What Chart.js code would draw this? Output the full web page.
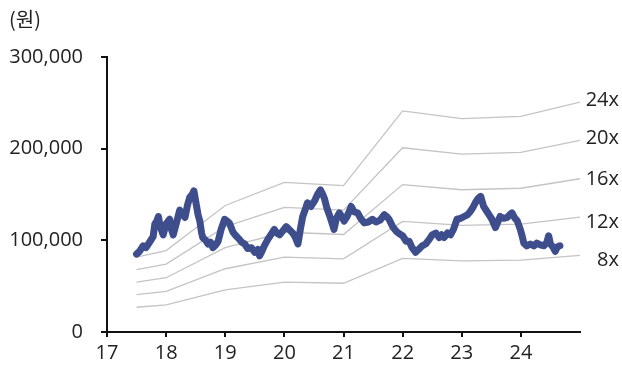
<!DOCTYPE html>
<html>
<head>
<meta charset="utf-8">
<script src="https://cdn.jsdelivr.net/npm/chart.js@4/dist/chart.umd.min.js"></script>
<style>
  html, body { margin: 0; padding: 0; background: #fff; }
  #wrap { width: 622px; height: 369px; }
</style>
</head>
<body>
<div id="wrap"><canvas id="myChart" width="622" height="369"></canvas></div>
<script>
// x in years (17 = 2017), values in won
var bandX = [17.5, 18, 19, 20, 21, 22, 23, 24, 25];
var band8 = [27000, 29600, 46000, 54400, 53200, 80400, 77600, 78400, 83600];
var band12 = [40800, 44400, 69000, 81600, 79800, 120600, 116400, 117600, 125400];
var band16 = [54400, 59200, 92000, 108800, 106400, 160800, 155200, 156800, 167200];
var band20 = [68000, 74000, 115000, 136000, 133000, 201000, 194000, 196000, 209000];
var band24 = [81600, 88800, 138000, 163200, 159600, 241200, 232800, 235200, 250800];
var bandLabels = ['8x', '12x', '16x', '20x', '24x'];

var priceX = [17.50, 17.55, 17.61, 17.66, 17.73, 17.78, 17.81, 17.84, 17.87, 17.90,
  17.95, 18.00, 18.06, 18.09, 18.12, 18.17, 18.23, 18.28, 18.32, 18.36,
  18.40, 18.44, 18.47, 18.51, 18.54, 18.57, 18.60, 18.62, 18.67, 18.71,
  18.75, 18.79, 18.84, 18.88, 18.93, 18.99, 19.03, 19.07, 19.10, 19.13,
  19.18, 19.24, 19.28, 19.33, 19.38, 19.44, 19.50, 19.55, 19.58, 19.62,
  19.66, 19.72, 19.77, 19.83, 19.87, 19.92, 19.97, 20.03, 20.08, 20.14,
  20.18, 20.23, 20.27, 20.31, 20.35, 20.39, 20.45, 20.51, 20.56, 20.61,
  20.65, 20.68, 20.72, 20.76, 20.80, 20.84, 20.88, 20.93, 20.97, 21.01,
  21.06, 21.10, 21.13, 21.18, 21.24, 21.29, 21.35, 21.42, 21.49, 21.55,
  21.62, 21.69, 21.73, 21.77, 21.83, 21.89, 21.95, 22.00, 22.06, 22.11,
  22.16, 22.22, 22.27, 22.33, 22.39, 22.45, 22.50, 22.56, 22.62, 22.66,
  22.70, 22.76, 22.81, 22.86, 22.92, 22.98, 23.04, 23.10, 23.15, 23.19,
  23.23, 23.28, 23.32, 23.37, 23.42, 23.46, 23.51, 23.57, 23.61, 23.65,
  23.71, 23.77, 23.81, 23.85, 23.90, 23.94, 23.99, 24.02, 24.05, 24.10,
  24.16, 24.22, 24.27, 24.33, 24.39, 24.44, 24.47, 24.50, 24.55, 24.58,
  24.62, 24.66];
var priceY = [85000, 88000, 94000, 92000, 99000, 104000, 118000, 121000, 126000, 115000,
  106000, 118000, 123000, 112000, 106000, 118000, 133000, 128000, 125000, 138000,
  147000, 150000, 154000, 139000, 128000, 121000, 108000, 103000, 100000, 96000,
  98000, 92000, 95000, 99000, 112000, 123000, 121000, 119000, 114000, 109000,
  105000, 101000, 98000, 96000, 91000, 92000, 87000, 90000, 83000, 88000,
  94000, 101000, 106000, 112000, 108000, 106000, 110000, 115000, 112000, 108000,
  104000, 96000, 112000, 126000, 133000, 141000, 137000, 143000, 150000, 155000,
  150000, 145000, 135000, 128000, 120000, 112000, 124000, 130000, 126000, 121000,
  126000, 132000, 137000, 131000, 130000, 124000, 119000, 120000, 123000, 120000,
  122000, 128000, 126000, 123000, 115000, 110000, 107000, 105000, 99000, 99000,
  92000, 87000, 90000, 94000, 96000, 101000, 106000, 108000, 103000, 106000,
  103000, 108000, 106000, 112000, 123000, 124000, 126000, 128000, 132000, 136000,
  141000, 146000, 148000, 137000, 132000, 128000, 123000, 114000, 120000, 126000,
  124000, 125000, 128000, 130000, 124000, 121000, 112000, 105000, 97000, 94000,
  96000, 94000, 97000, 95000, 94000, 98000, 105000, 96000, 92000, 88000,
  93000, 94000];

var yTicks = [0, 100000, 200000, 300000];
var xTicks = [17, 18, 19, 20, 21, 22, 23, 24];

var textColor = '#222';
var axisColor = '#111';
var bandColor = '#c4c4c4';
var priceColor = '#3e4d8c';
var numFont = { family: '"Open Sans", "Noto Sans", sans-serif', size: 20 };
// small vertical nudges for the band names (8x .. 24x)
var labelNudge = [5, 5, 1, -2, -2];

function toPoints(xs, ys) {
    var pts = [];
    for (let i = 0; i < xs.length; i++) {
        pts.push({ x: xs[i], y: ys[i] });
    }
    return pts;
}

var bands = [band8, band12, band16, band20, band24];
var datasets = [];
datasets.push({
    label: 'price',
    data: toPoints(priceX, priceY),
    borderColor: priceColor,
    borderWidth: 7,
    borderJoinStyle: 'round',
    borderCapStyle: 'round',
    pointRadius: 0,
    tension: 0,
    order: 0
});
for (let i = 0; i < bands.length; i++) {
    datasets.push({
        label: bandLabels[i],
        data: toPoints(bandX, bands[i]),
        borderColor: bandColor,
        borderWidth: 1.3,
        pointRadius: 0,
        tension: 0,
        order: 1
    });
}

// band names next to the right end of each band line, plus the unit
var labelPlugin = {
    id: 'bandLabels',
    afterDraw: function(chart) {
        var ctx = chart.ctx;
        ctx.save();
        ctx.fillStyle = textColor;
        ctx.font = numFont.size + 'px ' + numFont.family;
        ctx.textAlign = 'right';
        ctx.textBaseline = 'middle';
        for (let i = 1; i < chart.data.datasets.length; i++) {
            var meta = chart.getDatasetMeta(i);
            var last = meta.data[meta.data.length - 1];
            ctx.fillText(chart.data.datasets[i].label, chart.width - 3, last.y + labelNudge[i - 1]);
        }
        ctx.font = '20px "Noto Sans CJK KR", sans-serif';
        ctx.textAlign = 'left';
        ctx.fillText('(원)', 9, 19);
        ctx.restore();
    }
};

var ctx = document.getElementById('myChart').getContext('2d');
var myChart = new Chart(ctx, {
    type: 'line',
    data: { datasets: datasets },
    options: {
        responsive: false,
        animation: false,
        devicePixelRatio: 1,
        layout: { padding: { left: 0, top: 57, right: 42, bottom: 0 } },
        plugins: {
            legend: { display: false },
            tooltip: { enabled: false }
        },
        scales: {
            x: {
                type: 'linear',
                min: 17,
                max: 25,
                afterBuildTicks: function(scale) {
                    scale.ticks = xTicks.map(function(v) { return { value: v }; });
                },
                afterFit: function(scale) { scale.height = 37; },
                grid: { drawOnChartArea: false, drawTicks: true, tickLength: 5, color: axisColor, lineWidth: 2 },
                border: { display: true, color: axisColor, width: 2 },
                ticks: { color: textColor, font: numFont, padding: 4, maxRotation: 0 }
            },
            y: {
                min: 0,
                max: 300000,
                afterBuildTicks: function(scale) {
                    scale.ticks = yTicks.map(function(v) { return { value: v }; });
                },
                afterFit: function(scale) { scale.width = 107; },
                grid: { drawOnChartArea: false, drawTicks: true, tickLength: 6, color: axisColor, lineWidth: 2 },
                border: { display: true, color: axisColor, width: 2 },
                ticks: {
                    color: textColor,
                    font: numFont,
                    padding: 18,
                    callback: function(v) { return v.toLocaleString('en-US'); }
                }
            }
        }
    },
    plugins: [labelPlugin]
});
</script>
</body>
</html>
